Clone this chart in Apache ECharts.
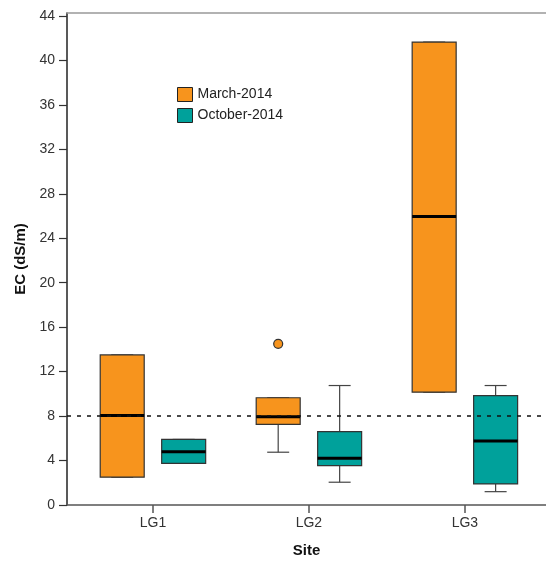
<!DOCTYPE html>
<html>
<head>
<meta charset="utf-8">
<script src="https://cdn.jsdelivr.net/npm/echarts@6/dist/echarts.min.js"></script>
<style>
  html, body { margin: 0; padding: 0; background: #fff; }
  #chart { width: 546px; height: 563px; }
</style>
</head>
<body>
<div id="chart"></div>
<script>
// Sites along the x axis
const categories = ['LG1', 'LG2', 'LG3'];
const seriesNames = ['March-2014', 'October-2014'];

// Box statistics per site: [min, Q1, median, Q3, max] in dS/m
const marchStats = [
  [2.5, 2.5, 8.05, 13.5, 13.5],
  [4.75, 7.25, 7.95, 9.65, 9.65],
  [10.15, 10.15, 25.95, 41.65, 41.65]
];
const octoberStats = [
  [3.75, 3.75, 4.8, 5.9, 5.9],
  [2.05, 3.55, 4.2, 6.6, 10.75],
  [1.2, 1.9, 5.75, 9.85, 10.75]
];

// Outliers: [site index, value]
const marchOutliers = [[1, 14.5]];
const octoberOutliers = [];

// Reference level (dS/m)
const threshold = 8;

// Y axis tick values
const yTicks = [0, 4, 8, 12, 16, 20, 24, 28, 32, 36, 40, 44];

const colors = ['#F7941D', '#00A19B'];
const edge = '#333333';

const BOX_W = 0.282;   // box width, in category units
const SHIFT = 0.197;   // distance of each box from its category centre

function boxRenderer(side, color) {
  return function (params, api) {
    const cat = api.value(0);
    const unit = api.size([1, 0])[0];
    const cx = api.coord([cat, 0])[0] + side * SHIFT * unit;
    const hw = BOX_W * unit / 2;
    const y = i => api.coord([cat, api.value(i)])[1];
    const yMin = y(1), yQ1 = y(2), yMed = y(3), yQ3 = y(4), yMax = y(5);
    const wl = { stroke: '#444', lineWidth: 1.2 };
    return {
      type: 'group',
      children: [
        { type: 'line', shape: { x1: cx, y1: yMax, x2: cx, y2: yQ3 }, style: wl },
        { type: 'line', shape: { x1: cx, y1: yMin, x2: cx, y2: yQ1 }, style: wl },
        { type: 'line', shape: { x1: cx - hw / 2, y1: yMax, x2: cx + hw / 2, y2: yMax }, style: wl },
        { type: 'line', shape: { x1: cx - hw / 2, y1: yMin, x2: cx + hw / 2, y2: yMin }, style: wl },
        { type: 'rect', shape: { x: cx - hw, y: yQ3, width: hw * 2, height: yQ1 - yQ3 },
          style: { fill: color, stroke: edge, lineWidth: 1.2 } },
        { type: 'line', shape: { x1: cx - hw, y1: yMed, x2: cx + hw, y2: yMed },
          style: { stroke: '#000', lineWidth: 3 } }
      ]
    };
  };
}

function outlierRenderer(side, color) {
  return function (params, api) {
    const cat = api.value(0);
    const unit = api.size([1, 0])[0];
    const p = api.coord([cat, api.value(1)]);
    return {
      type: 'circle',
      shape: { cx: p[0] + side * SHIFT * unit, cy: p[1], r: 4.5 },
      style: { fill: color, stroke: edge, lineWidth: 1.2 }
    };
  };
}

function boxData(stats) {
  return stats.map((s, i) => [i].concat(s));
}

const chart = echarts.init(document.getElementById('chart'));

const font = 'Liberation Sans, Arial, sans-serif';

chart.setOption({
  animation: false,
  grid: { left: 67, right: 0, top: 13, bottom: 55 },
  legend: {
    data: seriesNames,
    orient: 'vertical',
    left: 177,
    top: 87,
    padding: 0,
    itemWidth: 15,
    itemHeight: 14,
    itemGap: 6,
    icon: 'rect',
    itemStyle: { borderColor: '#222', borderWidth: 1 },
    textStyle: { fontFamily: font, fontSize: 14, color: '#222' }
  },
  xAxis: [{
    type: 'value',
    min: -0.551,
    max: 2.52,
    name: 'Site',
    nameLocation: 'middle',
    nameGap: 38,
    nameTextStyle: { fontFamily: font, fontSize: 15, fontWeight: 'bold', color: '#111' },
    splitLine: { show: false },
    axisLine: { show: true, onZero: false, lineStyle: { color: '#555', width: 1.5 } },
    axisTick: { show: true, customValues: [0, 1, 2], length: 8, lineStyle: { color: '#555', width: 1.5 } },
    axisLabel: {
      customValues: [0, 1, 2],
      formatter: v => categories[Math.round(v)],
      margin: 11,
      fontFamily: font, fontSize: 14, color: '#333'
    }
  }, {
    type: 'value',
    position: 'top',
    min: -0.551,
    max: 2.52,
    splitLine: { show: false },
    axisLine: { show: true, onZero: false, lineStyle: { color: '#999', width: 1.5 } },
    axisTick: { show: false },
    axisLabel: { show: false }
  }],
  yAxis: {
    type: 'value',
    min: 0,
    max: 44.27,
    name: 'EC (dS/m)',
    nameLocation: 'middle',
    nameGap: 37,
    nameTextStyle: { fontFamily: font, fontSize: 15, fontWeight: 'bold', color: '#111' },
    splitLine: { show: false },
    axisLine: { show: true, onZero: false, lineStyle: { color: '#222', width: 1.5 } },
    axisTick: { show: true, customValues: yTicks, length: 8, lineStyle: { color: '#333', width: 1.2 } },
    axisLabel: { customValues: yTicks, margin: 12, fontFamily: font, fontSize: 14, color: '#333' }
  },
  series: [
    {
      name: seriesNames[0],
      type: 'custom',
      itemStyle: { color: colors[0] },
      renderItem: boxRenderer(-1, colors[0]),
      encode: { x: 0, y: [1, 2, 3, 4, 5] },
      data: boxData(marchStats),
      z: 2
    },
    {
      name: seriesNames[1],
      type: 'custom',
      itemStyle: { color: colors[1] },
      renderItem: boxRenderer(1, colors[1]),
      encode: { x: 0, y: [1, 2, 3, 4, 5] },
      data: boxData(octoberStats),
      z: 2
    },
    {
      name: seriesNames[0],
      type: 'custom',
      renderItem: outlierRenderer(-1, colors[0]),
      encode: { x: 0, y: 1 },
      data: marchOutliers,
      z: 3
    },
    {
      name: seriesNames[1],
      type: 'custom',
      renderItem: outlierRenderer(1, colors[1]),
      encode: { x: 0, y: 1 },
      data: octoberOutliers,
      z: 3
    },
    {
      name: 'threshold',
      type: 'line',
      data: [],
      z: 5,
      markLine: {
        silent: true,
        symbol: 'none',
        label: { show: false },
        lineStyle: { color: '#111', width: 1.5, type: [4, 6] },
        data: [{ yAxis: threshold }]
      }
    }
  ]
});
</script>
</body>
</html>
